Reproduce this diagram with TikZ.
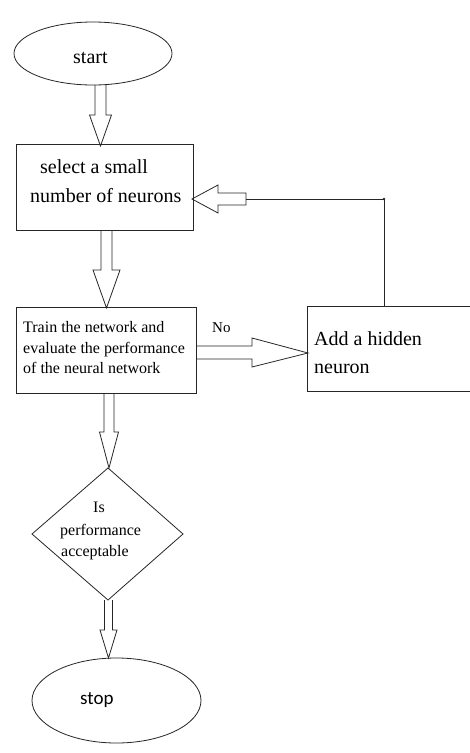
\documentclass[tikz,border=0pt]{standalone}
\usepackage{fontspec}
\setmainfont{Liberation Serif}
\newfontfamily\stopfont{Carlito}
\usetikzlibrary{shapes.geometric}
\newcommand\blkdown[6]{%
  \draw[ln] ({#1-#5},#2) -- ({#1-#5},#3) -- ({#1-#6},#3) -- (#1,#4) -- ({#1+#6},#3) -- ({#1+#5},#3) -- ({#1+#5},#2);}
\tikzset{
  ln/.style={draw=black!85, line width=0.8pt, line join=miter},
  shp/.style={ln, inner sep=0pt},
  big/.style={font=\fontsize{20}{24}\selectfont, inner sep=0pt, anchor=base west},
  mid/.style={font=\fontsize{16}{19}\selectfont, inner sep=0pt, anchor=base west},
}
\begin{document}
\begin{tikzpicture}[x=1pt, y=-1pt]
\fill[white] (0,0) rectangle (470,753);
\useasboundingbox (0,0) rectangle (470,753);
\clip (0,0) rectangle (470,753);

% shapes
\node[shp, ellipse, draw, minimum width=158pt, minimum height=63pt] (start) at (93,53.5) {};
\node[shp, rectangle, draw, minimum width=177pt, minimum height=86pt] (sel) at (104.5,187) {};
\node[shp, rectangle, draw, minimum width=180pt, minimum height=86pt] (train) at (106,350) {};
\coordinate (addtl) at (307,306);
\coordinate (addbl) at (307,391);
\coordinate (addtr) at (480,306);
\coordinate (addbr) at (480,391);
\draw[ln] (addtl) -- (addtr);
\draw[ln] (addbl) -- (addbr);
\draw[ln] (addtl) -- (addbl);
\coordinate (addtop) at (384,306);
\draw[ln] (108,468) -- (183,534) -- (108,600) -- (32,534) -- cycle;
\node[shp, ellipse, draw, minimum width=169pt, minimum height=85pt] (stop) at (116.5,700.5) {};

% texts
\node[big] (tstart) at (73,63) {start};
\node[big] (tsel1) at (40,173) {select a small};
\node[big] (tsel2) at (30,202) {number of neurons};
\node[mid] (ttr1) at (23,332) {Train the network and};
\node[mid] (ttr2) at (23,353) {evaluate the performance};
\node[mid] (ttr3) at (23,373.5) {of the neural network};
\node[mid, font=\fontsize{15}{18}\selectfont] (tno) at (212,332) {No};
\node[big] (tadd1) at (314,345) {Add a hidden};
\node[big] (tadd2) at (314,373) {neuron};
\node[mid] (tis1) at (93,512) {Is};
\node[mid] (tis2) at (60,535) {performance};
\node[mid] (tis3) at (61,556) {acceptable};
\node[big, font=\stopfont\fontsize{19}{23}\selectfont] (tstop) at (80,704) {stop};

% block arrows down
\blkdown{100.5}{85}{115}{146}{5.5}{11}
\blkdown{106.5}{230}{270}{308}{5.5}{13.5}
\blkdown{109}{393}{432}{468}{5}{9.5}
\blkdown{108.5}{600}{630}{658}{4}{8.5}

% block arrow right (No)
\draw[ln] (196,346) -- (252,346) -- (252,338) -- (308,353) -- (252,367) -- (252,359) -- (196,359);

% feedback
\draw[ln] (246,193) -- (218,193) -- (218,185) -- (192,199) -- (218,213) -- (218,205) -- (246,205) -- cycle;
\coordinate (fb) at (384,199);
\coordinate (fbs) at (246,199);
\draw[ln] (addtop) -- (fb) -- (fbs);
\fill[black!85] (fb) circle (1.3pt);
\end{tikzpicture}
\end{document}
